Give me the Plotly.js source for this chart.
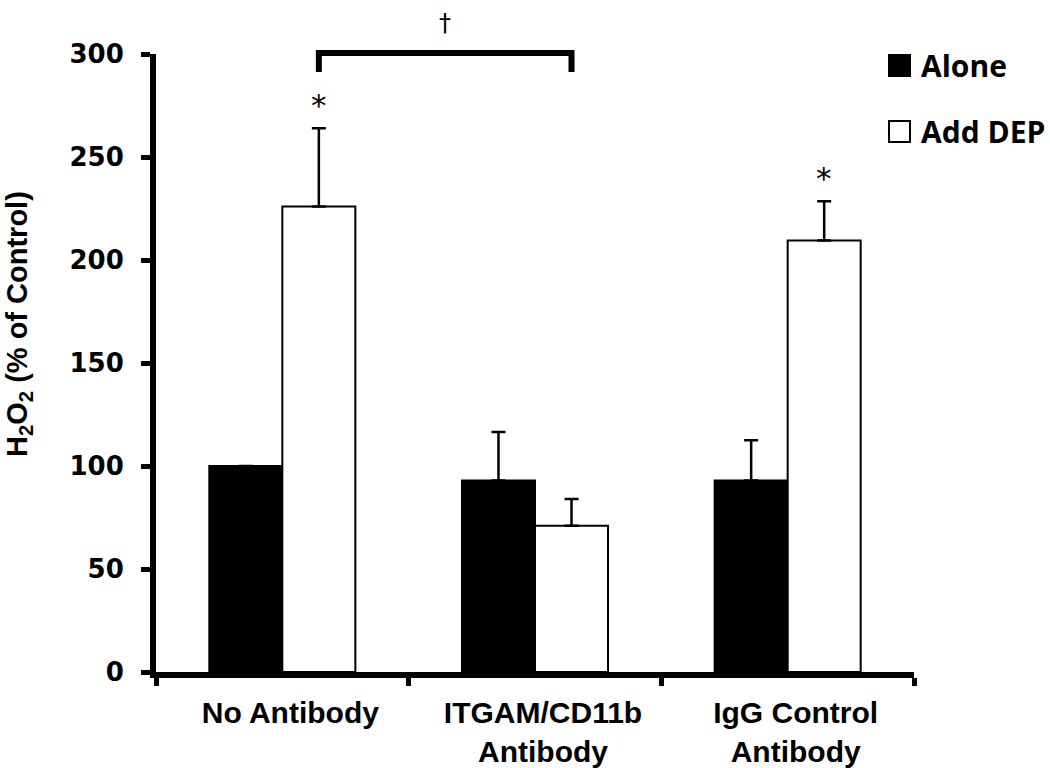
<!DOCTYPE html>
<html>
<head>
<meta charset="utf-8">
<script src="https://cdn.plot.ly/plotly-3.0.1.min.js"></script>
<style>html,body{margin:0;padding:0;background:#fff;}#chart{width:1050px;height:768px;}</style>
</head>
<body>
<div id="chart"></div>
<script>
// ---- data ----
const categories = ['No Antibody', 'ITGAM/CD11b<br>Antibody', 'IgG Control<br>Antibody'];
const seriesNames = ['Alone', 'Add DEP'];
const aloneValues = [100, 93, 93];
const aloneErrors = [0, 23.5, 19.5];
const depValues = [226, 71, 209.5];
const depErrors = [38, 13, 19];
const yTickValues = [0, 50, 100, 150, 200, 250, 300];
const starLabels = ['*', '', '*'];
const bracketLabel = '\u2020';

// ---- layout constants ----
const bargap = 0.422;
const barHalf = (1 - bargap) / 4; // offset of each bar center from its category center
const W = 1050, H = 768;
const M = {l: 156, r: 136, t: 54, b: 96};
const plotW = W - M.l - M.r, plotH = H - M.t - M.b;
const px2paperX = p => (p - M.l) / plotW;
const px2paperY = p => (H - M.b - p) / plotH;

const zeros = aloneValues.map(() => 0);

const traces = [
  {
    type: 'bar', name: seriesNames[0], x: categories, y: aloneValues,
    marker: {color: '#000000', line: {color: '#000000', width: 2}},
    error_y: {type: 'data', array: aloneErrors, arrayminus: zeros, symmetric: false,
              color: '#000000', thickness: 2.5, width: 7},
    showlegend: false, hoverinfo: 'skip'
  },
  {
    type: 'bar', name: seriesNames[1], x: categories, y: depValues,
    marker: {color: '#ffffff', line: {color: '#000000', width: 2}},
    error_y: {type: 'data', array: depErrors, arrayminus: zeros, symmetric: false,
              color: '#000000', thickness: 2.5, width: 7},
    showlegend: false, hoverinfo: 'skip'
  }
];

const annotations = [];
const shapes = [];

// significance stars above the Add DEP error bars
starLabels.forEach((s, i) => {
  if (!s) return;
  annotations.push({
    x: i + barHalf, xref: 'x', y: depValues[i] + depErrors[i], yref: 'y',
    text: s, showarrow: false, xanchor: 'center', yanchor: 'bottom', yshift: 3,
    font: {family: 'DejaVu Sans', size: 31, color: '#000'}
  });
});

// bracket between No Antibody + DEP and ITGAM + DEP
const bx0 = 0 + barHalf, bx1 = 1 + barHalf;
const bTop = px2paperY(53), bLeg = px2paperY(72);
shapes.push({
  type: 'path', xref: 'x', yref: 'paper',
  path: `M${bx0},${bLeg} L${bx0},${bTop} L${bx1},${bTop} L${bx1},${bLeg}`,
  line: {color: '#000', width: 6}, layer: 'above'
});
annotations.push({
  x: (bx0 + bx1) / 2, xref: 'x', y: px2paperY(23), yref: 'paper',
  text: bracketLabel, showarrow: false, xanchor: 'center', yanchor: 'middle',
  font: {family: 'DejaVu Sans', size: 24, color: '#000'}
});

// legend (drawn manually for large swatches)
const legendItems = [
  {name: seriesNames[0], fill: '#000000', top: 55, bottom: 76},
  {name: seriesNames[1], fill: '#ffffff', top: 121, bottom: 142}
];
legendItems.forEach(it => {
  shapes.push({
    type: 'rect', xref: 'paper', yref: 'paper',
    x0: px2paperX(889), x1: px2paperX(910), y0: px2paperY(it.bottom), y1: px2paperY(it.top),
    fillcolor: it.fill, line: {color: '#000', width: 2}, layer: 'above'
  });
  annotations.push({
    x: px2paperX(919), xref: 'paper', y: px2paperY((it.top + it.bottom) / 2), yref: 'paper',
    text: '<b>' + it.name + '</b>', showarrow: false, xanchor: 'left', yanchor: 'middle',
    font: {family: 'Open Sans', size: 30, color: '#000'}
  });
});

// y-axis title
annotations.push({
  x: px2paperX(19), xref: 'paper', y: px2paperY(324), yref: 'paper',
  text: '<b>H<sub>2</sub>O<sub>2</sub> (% of Control)</b>', showarrow: false,
  textangle: -90, xanchor: 'center', yanchor: 'middle',
  font: {family: 'Liberation Sans', size: 29, color: '#000'}
});

const layout = {
  width: W, height: H,
  margin: M,
  paper_bgcolor: '#ffffff', plot_bgcolor: '#ffffff',
  barmode: 'group', bargap: bargap, bargroupgap: 0,
  showlegend: false,
  xaxis: {
    type: 'category', range: [-0.5, 2.5],
    showline: true, linecolor: '#000', linewidth: 6,
    ticks: 'outside', tickson: 'boundaries', ticklen: 8, tickwidth: 5, tickcolor: '#000',
    tickfont: {family: 'Liberation Sans', size: 30, color: '#000', weight: 'bold'},
    ticklabelstandoff: 9, ticklabelshift: 8,
    showgrid: false, zeroline: false, fixedrange: true
  },
  yaxis: {
    range: [0, 300], tickmode: 'array', tickvals: yTickValues, ticktext: yTickValues.map(String),
    showline: true, linecolor: '#000', linewidth: 6,
    ticks: 'outside', ticklen: 9, tickwidth: 5, tickcolor: '#000',
    tickfont: {family: 'DejaVu Sans', size: 26, color: '#000', weight: 'bold'},
    ticklabelstandoff: 12,
    showgrid: false, zeroline: false, fixedrange: true
  },
  shapes: shapes,
  annotations: annotations
};

Plotly.newPlot('chart', traces, layout, {displayModeBar: false, staticPlot: true});
</script>
</body>
</html>
